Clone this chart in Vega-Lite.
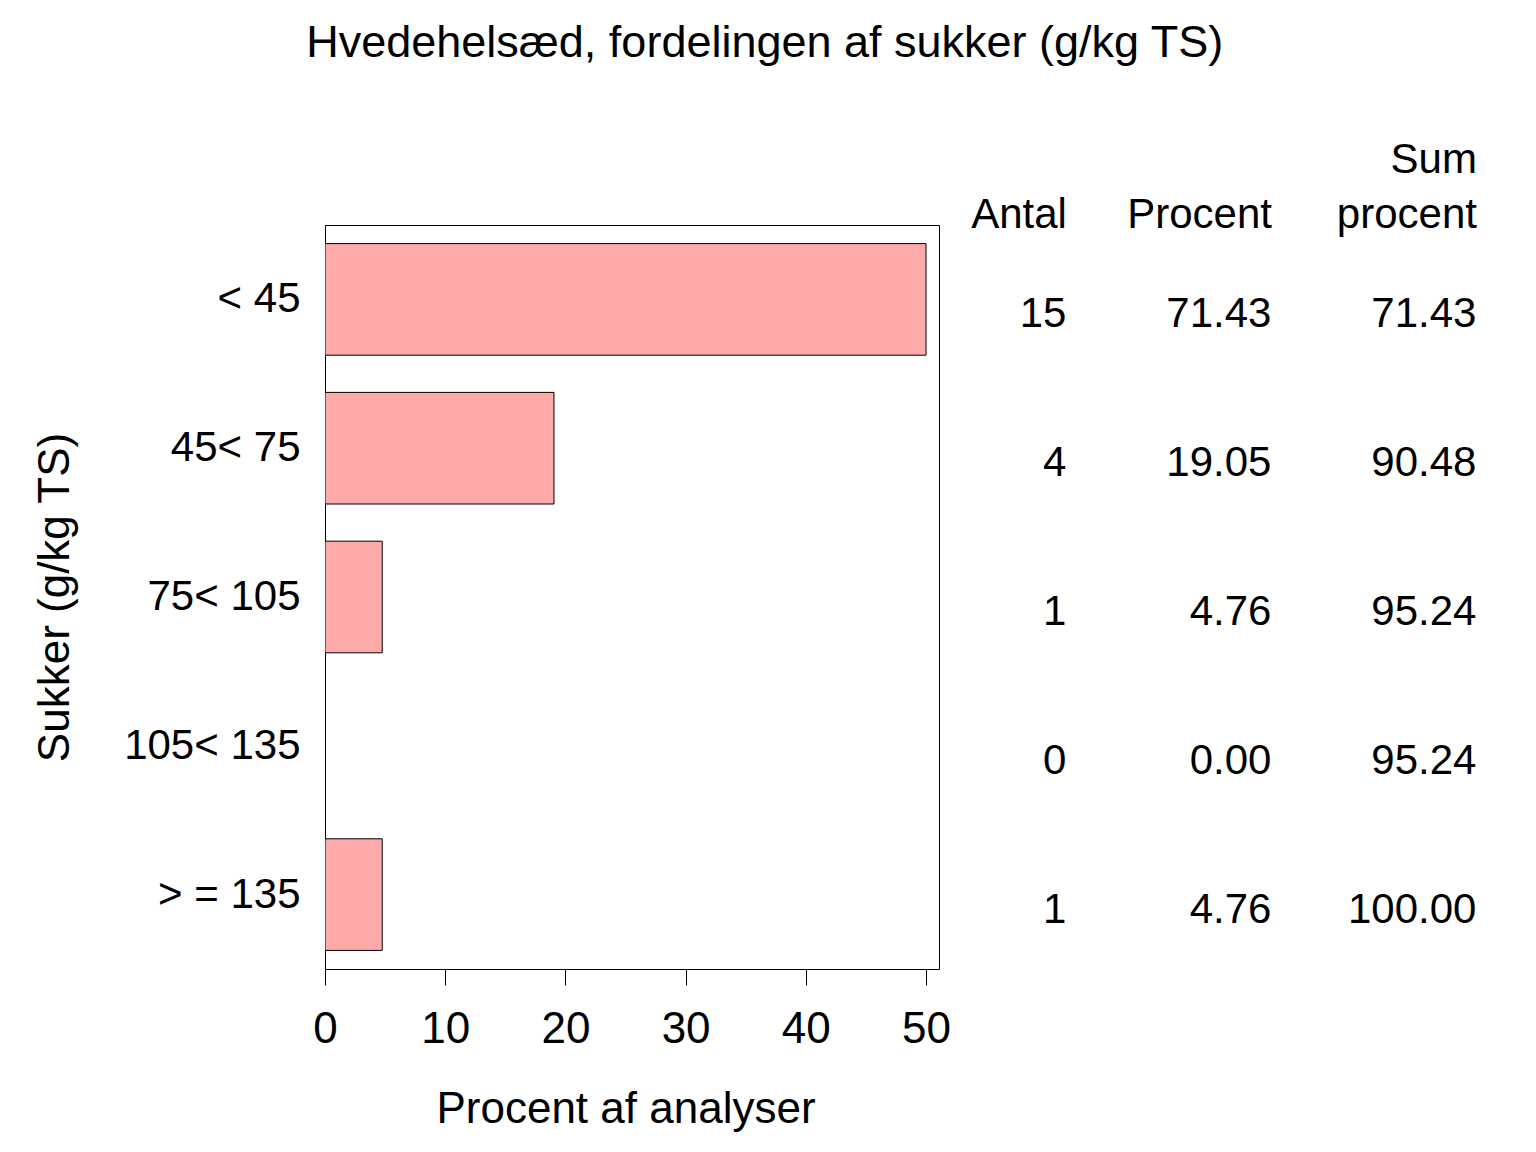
{
  "$schema": "https://vega.github.io/schema/vega-lite/v6.json",
  "background": "white",
  "padding": {"left": 32, "top": 21, "right": 10, "bottom": 5},
  "title": {
    "text": "Hvedehelsæd, fordelingen af sukker (g/kg TS)",
    "fontSize": 45,
    "fontWeight": "normal",
    "color": "black",
    "offset": 72,
    "anchor": "middle"
  },
  "datasets": {
    "sukker": [
      {"kat": "< 45", "nr": 1, "antal": 15, "procent": 71.43, "sum": 71.43},
      {"kat": "45< 75", "nr": 2, "antal": 4, "procent": 19.05, "sum": 90.48},
      {"kat": "75< 105", "nr": 3, "antal": 1, "procent": 4.76, "sum": 95.24},
      {"kat": "105< 135", "nr": 4, "antal": 0, "procent": 0.0, "sum": 95.24},
      {"kat": "> = 135", "nr": 5, "antal": 1, "procent": 4.76, "sum": 100.0}
    ]
  },
  "spacing": 13,
  "hconcat": [
    {
      "width": 614,
      "height": 744,
      "data": {"name": "sukker"},
      "mark": {"type": "bar", "fill": "#ffaaaa", "stroke": "black", "strokeWidth": 1, "clip": true},
      "encoding": {
        "y": {
          "field": "kat",
          "type": "nominal",
          "sort": {"field": "nr"},
          "scale": {"paddingInner": 0.25, "paddingOuter": 0.125},
          "axis": {
            "title": "Sukker  (g/kg  TS)",
            "ticks": false,
            "domain": false,
            "labelPadding": 25,
            "labelFontSize": 42,
            "titleFontSize": 44,
            "titlePadding": 48
          }
        },
        "x": {
          "field": "procent",
          "type": "quantitative",
          "scale": {"domain": [0, 50], "range": [0, 601], "nice": false, "clamp": true},
          "axis": {
            "title": "Procent  af  analyser",
            "values": [0, 10, 20, 30, 40, 50],
            "grid": false,
            "domain": false,
            "tickSize": 16,
            "labelFlush": false,
            "labelPadding": 22,
            "labelFontSize": 44,
            "titleFontSize": 44,
            "titlePadding": 36
          }
        }
      }
    },
    {
      "width": 533,
      "height": 744,
      "view": {"stroke": null},
      "data": {"name": "sukker"},
      "encoding": {
        "y": {"field": "kat", "type": "nominal", "sort": {"field": "nr"}, "axis": null,
              "scale": {"paddingInner": 0.25, "paddingOuter": 0.125}}
      },
      "layer": [
        {
          "mark": {"type": "text", "align": "right", "baseline": "middle", "fontSize": 42, "dy": 15},
          "encoding": {
            "x": {
              "datum": "Antal",
              "type": "nominal",
              "scale": {"type": "point", "domain": ["Antal", "Procent", "Sum procent"], "padding": 0.3, "align": 0.833},
              "axis": {
                "orient": "top",
                "title": null,
                "ticks": false,
                "domain": false,
                "labelAngle": 0,
                "labelAlign": "right",
                "labelBaseline": "bottom",
                "labelPadding": 44,
                "labelFontSize": 42,
                "labelLineHeight": 55,
                "labelExpr": "indexof(datum.label, ' ') < 0 ? ['', datum.label] : split(datum.label, ' ')"
              }
            },
            "text": {"field": "antal", "type": "quantitative", "format": "d"}
          }
        },
        {
          "mark": {"type": "text", "align": "right", "baseline": "middle", "fontSize": 42, "dy": 15},
          "encoding": {
            "x": {"datum": "Procent", "type": "nominal"},
            "text": {"field": "procent", "type": "quantitative", "format": ".2f"}
          }
        },
        {
          "mark": {"type": "text", "align": "right", "baseline": "middle", "fontSize": 42, "dy": 15},
          "encoding": {
            "x": {"datum": "Sum procent", "type": "nominal"},
            "text": {"field": "sum", "type": "quantitative", "format": ".2f"}
          }
        }
      ]
    }
  ],
  "config": {
    "font": "Liberation Sans",
    "view": {"stroke": "black", "strokeWidth": 1},
    "text": {"color": "black", "font": "Liberation Sans"},
    "axis": {
      "labelColor": "black",
      "titleColor": "black",
      "tickColor": "black",
      "titleFontWeight": "normal",
      "labelFont": "Liberation Sans",
      "titleFont": "Liberation Sans"
    },
    "title": {"font": "Liberation Sans"}
  }
}
